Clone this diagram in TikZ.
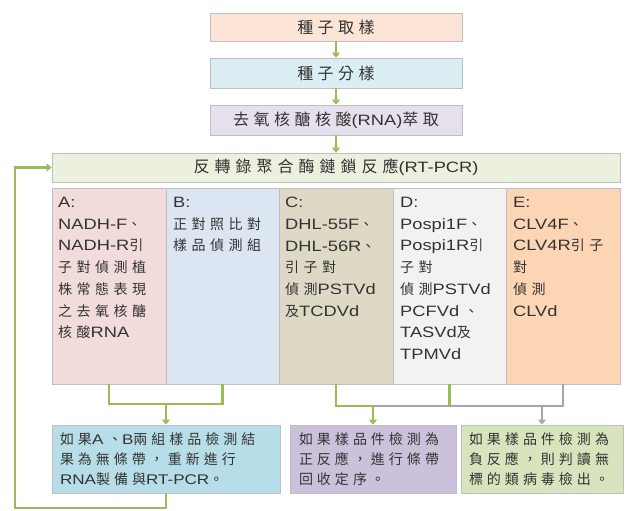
\documentclass[tikz,border=0pt]{standalone}
\usepackage{fontspec}
\setmainfont{Liberation Sans}[FakeStretch=1.22]
\newfontfamily\cjkfont{Noto Sans CJK TC}
\usetikzlibrary{arrows.meta}
\newlength\cjkgap
\setlength\cjkgap{5pt}
\def\cjkstyle{\relax}
\XeTeXinterchartokenstate=1
\newXeTeXintercharclass\cjkcls
\newcount\cjkcc
\def\setcjkrange#1#2{\cjkcc=#1\relax\loop\XeTeXcharclass\cjkcc=\cjkcls\relax\ifnum\cjkcc<#2\advance\cjkcc by 1\repeat}
\setcjkrange{"3000}{"303F}
\setcjkrange{"4E00}{"9FFF}
\setcjkrange{"FF00}{"FFEF}
\XeTeXinterchartoks 0 \cjkcls = {\begingroup\cjkfont\cjkstyle}
\XeTeXinterchartoks 4095 \cjkcls = {\begingroup\cjkfont\cjkstyle}
\XeTeXinterchartoks \cjkcls 0 = {\endgroup}
\XeTeXinterchartoks \cjkcls 4095 = {\endgroup}
\XeTeXinterchartoks \cjkcls \cjkcls = {\hskip\cjkgap}
\newcommand\topfont{\fontsize{15}{18}\selectfont\def\cjkstyle{\fontsize{16}{18}\selectfont}\setlength\cjkgap{4.5pt}}
\newcommand\rtfont{\fontsize{15}{18}\selectfont\def\cjkstyle{\fontsize{16}{18}\selectfont}\setlength\cjkgap{5pt}}
\newcommand\colfont{\fontsize{15}{21.7}\selectfont\def\cjkstyle{\fontsize{14}{21.7}\selectfont}\setlength\cjkgap{4.5pt}}
\newcommand\botfont{\fontsize{14}{20}\selectfont\def\cjkstyle{\fontsize{14}{20}\selectfont}\setlength\cjkgap{4pt}}
\definecolor{c1}{HTML}{FCE4D6}
\definecolor{c2}{HTML}{DAEEF3}
\definecolor{c3}{HTML}{E5E0EC}
\definecolor{c4}{HTML}{EBF1DE}
\definecolor{fa}{HTML}{F2DCDB}
\definecolor{fb}{HTML}{DCE6F2}
\definecolor{fc}{HTML}{DDD9C4}
\definecolor{fd}{HTML}{F2F2F2}
\definecolor{fe}{HTML}{FCD5B5}
\definecolor{g1}{HTML}{B7DEE8}
\definecolor{g2}{HTML}{CCC1DA}
\definecolor{g3}{HTML}{D7E4BD}
\definecolor{lg}{HTML}{9BBB59}
\definecolor{lgray}{HTML}{A6A6A6}
\definecolor{bordc}{HTML}{BFBFBF}
\definecolor{txt}{HTML}{333333}
\begin{document}
\begin{tikzpicture}[x=1pt,y=-1pt,
  box/.style={draw=bordc, line width=0.8pt, inner sep=0pt, text=txt},
  topbox/.style={box, minimum width=252pt, font=\topfont},
  colbox/.style={box, minimum height=196pt},
  coltext/.style={anchor=north west, align=left, inner sep=0pt, text=txt, font=\colfont},
  botbox/.style={box, minimum height=68pt, align=left, inner xsep=8pt, font=\botfont},
  gl/.style={draw=lg, line width=2.8pt},
  ga/.style={gl, -{Triangle[length=5pt,width=8pt]}},
  yl/.style={draw=lgray, line width=2.8pt},
  ya/.style={yl, -{Triangle[length=5pt,width=8pt]}}
]
\useasboundingbox (0,0) rectangle (630,511);
% top chain
\node[topbox, fill=c1, minimum height=28pt] (s1) at (336,27) {種子取樣};
\node[topbox, fill=c2, minimum height=30pt] (s2) at (336,73) {種子分樣};
\node[topbox, fill=c3, minimum height=30pt] (s3) at (336,120) {去氧核醣核酸(RNA)萃取};
\node[box, fill=c4, minimum width=568pt, minimum height=29pt, font=\rtfont] (rt) at (336,167.5) {反轉錄聚合酶鏈鎖反應(RT-PCR)};
% columns
\node[colbox, fill=fa, minimum width=114pt] (ca) at (109,286) {};
\node[colbox, fill=fb, minimum width=113pt] (cb) at (222.5,286) {};
\node[colbox, fill=fc, minimum width=114pt] (cc) at (336,286) {};
\node[colbox, fill=fd, minimum width=113pt] (cd) at (449.5,286) {};
\node[colbox, fill=fe, minimum width=114pt] (ce) at (563,286) {};
\node[coltext] (ta) at (58,197) {A:\\NADH-F、\\NADH-R引\\子對偵測植\\株常態表現\\之去氧核醣\\核酸RNA};
\node[coltext] (tb) at (173,197) {B:\\正對照比對\\樣品偵測組};
\node[coltext] (tc) at (285,197) {C:\\DHL-55F、\\DHL-56R、\\引子對\\偵測PSTVd\\及TCDVd};
\node[coltext] (td) at (400,197) {D:\\Pospi1F、\\Pospi1R引\\子對\\偵測PSTVd\\PCFVd 、\\TASVd及\\TPMVd};
\node[coltext] (te) at (513,197) {E:\\CLV4F、\\CLV4R引子\\對\\偵測\\CLVd};
% bottom boxes
\node[botbox, fill=g1, minimum width=228pt, text width=212pt] (b1) at (166,459) {如果A 、B兩組樣品檢測結\\果為無條帶，重新進行\\RNA製備與RT-PCR。};
\node[botbox, fill=g2, minimum width=166pt, text width=148pt] (b2) at (373,459) {如果樣品件檢測為\\正反應，進行條帶\\回收定序。};
\node[botbox, fill=g3, minimum width=162pt, text width=146pt] (b3) at (542,459) {如果樣品件檢測為\\負反應，則判讀無\\標的類病毒檢出。};
% connectors
\draw[ga] (s1) -- (s2);
\draw[ga] (s2) -- (s3);
\draw[ga] (s3) -- (rt);
\coordinate (jab) at (166,404);
\draw[gl] (ca.south) |- (jab) -| (cb.south);
\draw[ga] (jab) -- (b1);
\coordinate (jpos) at (373,406);
\coordinate (jneg) at (542,406);
\draw[gl] (cd.south) -- (cd.south |- jpos);
\draw[yl] (ce.south) |- (jpos);
\draw[gl] (cc.south) |- (jpos);
\draw[ga] (jpos) -- (b2);
\draw[ya] (jneg) -- (b3);
\coordinate (fb) at (15,508);
\draw[ga] (b1.south) |- (fb) |- (rt.west);
\end{tikzpicture}
\end{document}
